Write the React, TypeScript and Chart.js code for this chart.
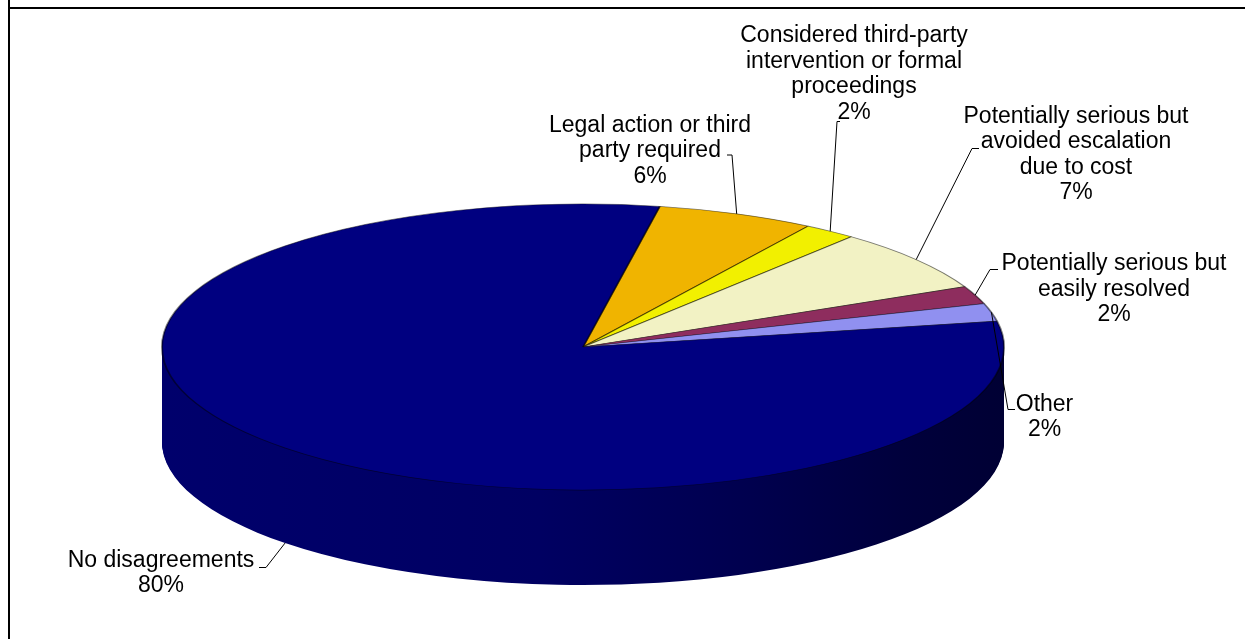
import React, { useEffect, useRef } from 'react';
import { Chart, registerables } from 'chart.js';

Chart.register(...registerables);

// ---- data ----
const categories = [
  'Legal action or third party required',
  'Considered third-party intervention or formal proceedings',
  'Potentially serious but avoided escalation due to cost',
  'Potentially serious but easily resolved',
  'Other',
  'No disagreements',
];
const values = [6, 2, 7, 2, 2, 80];
const labelLines = [
  ['Legal action or third', 'party required'],
  ['Considered third-party', 'intervention or formal', 'proceedings'],
  ['Potentially serious but', 'avoided escalation', 'due to cost'],
  ['Potentially serious but', 'easily resolved'],
  ['Other'],
  ['No disagreements'],
];
const topColors = ['#F0B400', '#F2F000', '#F2F2C4', '#8E2D5E', '#9090F0', '#000080'];
const sideColors = ['#B08400', '#B0AE00', '#B4B48E', '#66203F', '#6464B0', null];

// ---- layout (not data) ----
const CX = 583;
const CY = 347;
const RX = 421;
const RY = 143;
const DEPTH = 95;
const LINE_H = 25.5;
const FONT = '23px "Liberation Sans", Arial, sans-serif';
// label centre x, first baseline y, leader start, leader elbow
const labelLayout = [
  { x: 650, y: 131.7, from: [727, 155], elbow: [732, 155] },
  { x: 854, y: 42.3, from: [840, 121.5], elbow: [837, 121.5] },
  { x: 1076, y: 122.7, from: [979, 148.5], elbow: [972, 148.5] },
  { x: 1114, y: 270, from: [998, 269.5], elbow: [990, 269.5] },
  { x: 1044.5, y: 410.7, from: [1015, 409.5], elbow: [1008, 409.5] },
  { x: 161, y: 566.7, from: [259, 567.5], elbow: [266, 567.5] },
];

const pie3d = {
  id: 'pie3d',
  beforeDatasetsDraw(chart: any) {
    const meta = chart.getDatasetMeta(0);
    const arcs = meta.data;
    if (!arcs.length) return;
    const a0 = arcs[0];
    const R = a0.outerRadius;
    const ax = a0.x;
    const ay = a0.y;
    const ctx = chart.ctx as CanvasRenderingContext2D;
    const apply = (dy: number) => {
      ctx.translate(CX, CY + dy);
      ctx.scale(RX / R, RY / R);
      ctx.translate(-ax, -ay);
    };
    const grad = ctx.createLinearGradient(ax - R, 0, ax + R, 0);
    grad.addColorStop(0, '#00006C');
    grad.addColorStop(0.45, '#000062');
    grad.addColorStop(0.7, '#00004E');
    grad.addColorStop(0.88, '#00003C');
    grad.addColorStop(1, '#000034');
    const fakes = arcs.map((arc: any, i: number) => {
      const f = Object.create(arc);
      f.options = Object.assign({}, arc.options, {
        backgroundColor: sideColors[i] || grad,
        borderWidth: 0,
      });
      return f;
    });
    for (let d = DEPTH; d >= 1; d--) {
      ctx.save();
      apply(d);
      fakes.forEach((f: any) => f.draw(ctx));
      ctx.restore();
    }
    ctx.save();
    apply(0);
  },
  afterDatasetsDraw(chart: any) {
    const ctx = chart.ctx as CanvasRenderingContext2D;
    ctx.restore();
    const arcs = chart.getDatasetMeta(0).data;
    ctx.save();
    ctx.font = FONT;
    ctx.fillStyle = '#000';
    ctx.textAlign = 'center';
    ctx.textBaseline = 'alphabetic';
    ctx.strokeStyle = '#000';
    ctx.lineWidth = 1;
    arcs.forEach((arc: any, i: number) => {
      const L = labelLayout[i];
      const lines = [...labelLines[i], `${values[i]}%`];
      lines.forEach((t, k) => ctx.fillText(t, L.x, L.y + k * LINE_H));
      const mid = (arc.startAngle + arc.endAngle) / 2;
      const px = CX + RX * Math.cos(mid);
      const py = CY + RY * Math.sin(mid) + (Math.sin(mid) > 0.3 ? DEPTH : 0);
      ctx.beginPath();
      ctx.moveTo(L.from[0], L.from[1]);
      ctx.lineTo(L.elbow[0], L.elbow[1]);
      ctx.lineTo(px, py);
      ctx.stroke();
    });
    ctx.restore();
  },
};

export default function App() {
  const ref = useRef<HTMLCanvasElement | null>(null);
  useEffect(() => {
    if (!ref.current) return;
    const chart = new Chart(ref.current, {
      type: 'pie',
      data: {
        labels: categories,
        datasets: [
          {
            data: values,
            backgroundColor: topColors,
            borderColor: 'rgba(0,0,0,0.5)',
            borderWidth: 1.5,
            clip: false,
          } as any,
        ],
      },
      options: {
        responsive: false,
        maintainAspectRatio: false,
        animation: false,
        devicePixelRatio: 1,
        rotation: 10.5,
        events: [],
        layout: { padding: 0 },
        plugins: { legend: { display: false }, tooltip: { enabled: false } },
      } as any,
      plugins: [pie3d],
    });
    return () => chart.destroy();
  }, []);
  return (
    <div style={{ position: 'fixed', left: 0, top: 0, width: 1245, height: 639, background: '#fff' }}>
      <canvas
        ref={ref}
        width={1245}
        height={639}
        style={{ position: 'absolute', left: 0, top: 0, width: 1245, height: 639 }}
      />
      <div style={{ position: 'absolute', left: 8, top: 0, width: 2, height: 639, background: '#000' }} />
      <div style={{ position: 'absolute', left: 8, top: 7, width: 1237, height: 2, background: '#000' }} />
    </div>
  );
}
